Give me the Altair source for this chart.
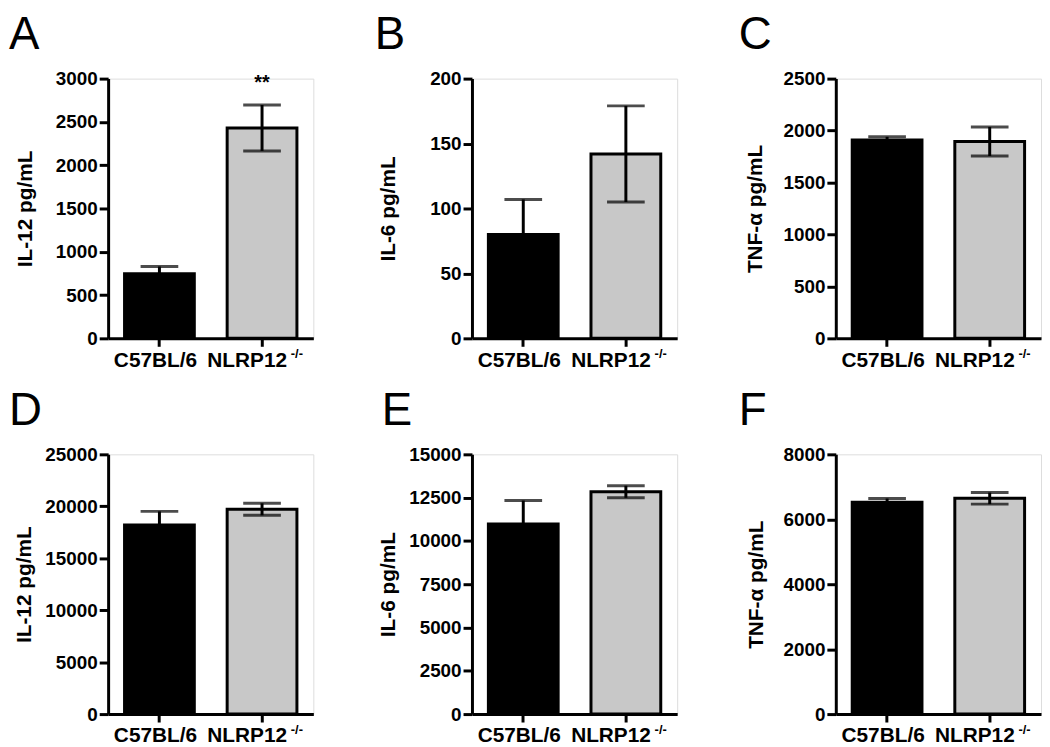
import altair as alt
import pandas as pd

FONT = "Liberation Sans"

categories = ["C57BL/6", "NLRP12"]
superscripts = ["", "-/-"]
bar_colors = ["#000000", "#c8c8c8"]

letters = ["A", "B", "C", "D", "E", "F"]
y_titles = ["IL-12 pg/mL", "IL-6 pg/mL", "TNF-\u03b1  pg/mL",
            "IL-12 pg/mL", "IL-6 pg/mL", "TNF-\u03b1  pg/mL"]

means_A = [745, 2430]
sem_A = [85, 265]
means_B = [80, 142]
sem_B = [27, 37]
means_C = [1909, 1895]
sem_C = [31, 140]
means_D = [18210, 19710]
sem_D = [1300, 580]
means_E = [10983, 12840]
sem_E = [1350, 350]
means_F = [6528, 6645]
sem_F = [112, 178]

stars_A = ["", "**"]
no_stars = ["", ""]

y_max = [3000, 200, 2500, 25000, 15000, 8000]
y_step = [500, 50, 500, 5000, 2500, 2000]

title_pads = [20, 31, 18, 10, 10, 17]
letter_dx = [-100, -98, -98, -100, -91, -98]

all_means = [means_A, means_B, means_C, means_D, means_E, means_F]
all_sems = [sem_A, sem_B, sem_C, sem_D, sem_E, sem_F]
all_stars = [stars_A, no_stars, no_stars, no_stars, no_stars, no_stars]


def panel(i):
    means = all_means[i]
    sems = all_sems[i]
    df = pd.DataFrame({
        "cat": categories,
        "mean": means,
        "lo": [m - s for m, s in zip(means, sems)],
        "hi": [m + s for m, s in zip(means, sems)],
        "star": all_stars[i],
        "sup": superscripts,
        "zero": [0, 0],
    })
    xenc = alt.X(
        "cat:N", sort=categories,
        scale=alt.Scale(domain=categories, paddingInner=0.32, paddingOuter=0.16),
        axis=alt.Axis(
            title=None, labelAngle=0, labelFontSize=21, labelFont=FONT,
            labelFontWeight="bold", labelColor="black", domainColor="black",
            domainWidth=3, tickColor="black", tickWidth=3, tickSize=8,
            labelPadding=3,
            labelOffset={"condition": {"test": "datum.value === 'NLRP12'", "value": -15},
                         "value": -4},
        ),
    )
    yscale = alt.Scale(domain=[0, y_max[i]], nice=False, zero=True)
    yaxis = alt.Axis(
        title=y_titles[i], values=list(range(0, y_max[i] + 1, y_step[i])),
        format="d", grid=False, labelFontSize=19, labelFont=FONT,
        labelFontWeight="bold", labelColor="black", titleFont=FONT,
        titleFontSize=21, titleFontWeight="bold", titleColor="black",
        domainColor="black", domainWidth=3, tickColor="black", tickWidth=3,
        tickSize=9, labelPadding=2, titlePadding=title_pads[i],
    )
    base = alt.Chart(df).encode(x=xenc)
    bars = base.mark_bar(stroke="black", strokeWidth=3).encode(
        y=alt.Y("mean:Q", scale=yscale, axis=yaxis),
        color=alt.Color("cat:N", scale=alt.Scale(domain=categories, range=bar_colors),
                        legend=None),
    )
    err = base.mark_rule(color="black", strokeWidth=3).encode(y="lo:Q", y2="hi:Q")
    cap_hi = base.mark_tick(color="black", thickness=3, size=38).encode(y="hi:Q")
    cap_lo = base.mark_tick(color="black", thickness=3, size=38).encode(y="lo:Q")
    star = base.mark_text(font=FONT, fontSize=20, fontWeight="bold", color="black",
                          baseline="bottom", dy=-12).encode(y="hi:Q", text="star:N")
    sup = base.mark_text(font=FONT, fontSize=13, fontWeight="bold", color="black",
                         align="left", baseline="top", dx=29, dy=10).encode(
        y="zero:Q", text="sup:N")
    return alt.layer(bars, err, cap_hi, cap_lo, star, sup).properties(
        width=207, height=262,
        title=alt.TitleParams(letters[i], anchor="start", frame="group", fontSize=46,
                              fontWeight="normal", font=FONT, color="black",
                              dx=letter_dx[i], offset=-25, baseline="alphabetic"),
    )


chart = alt.concat(
    *[panel(i) for i in range(6)], columns=3,
    spacing={"row": 117, "column": 160}, bounds="flush",
).properties(padding=0).configure_view(stroke=None).configure(background="white")

chart.save("out.html", embed_options={"renderer": "svg", "actions": False})
